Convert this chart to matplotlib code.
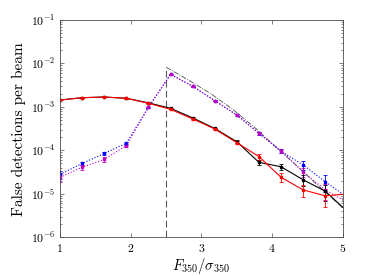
import numpy as np
import matplotlib
matplotlib.use("Agg")
import matplotlib.pyplot as plt

# bin centres (last one lies just past the axis edge)
snr = [1.0, 1.3125, 1.625, 1.9375, 2.25, 2.5625, 2.875, 3.1875,
       3.5, 3.8125, 4.125, 4.4375, 4.75, 5.0625]

red = [1.44e-3, 1.63e-3, 1.69e-3, 1.58e-3, 1.21e-3, 8.8e-4, 5.3e-4, 3.1e-4,
       1.5e-4, 7.2e-5, 2.4e-5, 1.23e-5, 9.0e-6, 1.0e-5]
red_err = [3e-5, 3e-5, 3e-5, 3e-5, 3e-5, 2.5e-5, 2e-5, 1.5e-5,
           1.1e-5, 1.1e-5, 5.5e-6, 3.7e-6, 4e-6, 3e-6]

black = [1.44e-3, 1.63e-3, 1.69e-3, 1.58e-3, 1.24e-3, 9.3e-4, 5.6e-4, 3.2e-4,
         1.58e-4, 5.3e-5, 4.2e-5, 2.1e-5, 1.15e-5, 3.9e-6]
black_err = [3e-5, 3e-5, 3e-5, 3e-5, 3e-5, 2.5e-5, 2e-5, 1.5e-5,
             1.1e-5, 8e-6, 7e-6, 5.5e-6, 4.5e-6, 2e-6]

blue = [2.8e-5, 5.0e-5, 8.5e-5, 1.46e-4, 9.8e-4, 5.6e-3, 3.0e-3, 1.39e-3,
        6.5e-4, 2.47e-4, 9.5e-5, 4.6e-5, 1.9e-5, 8.3e-6]
blue_err = [6e-6, 5e-6, 7e-6, 1.0e-5, 3e-5, 7e-5, 5e-5, 3.5e-5,
            2.5e-5, 1.5e-5, 1.0e-5, 1.0e-5, 8e-6, 4e-6]

magenta = [2.4e-5, 4.1e-5, 6.2e-5, 1.29e-4, 9.8e-4, 5.6e-3, 3.0e-3, 1.39e-3,
           6.5e-4, 2.47e-4, 9.7e-5, 3.2e-5, 1.23e-5, 6.3e-6]
magenta_err = [5e-6, 5e-6, 7e-6, 1.0e-5, 3e-5, 7e-5, 5e-5, 3.5e-5,
               2.5e-5, 1.5e-5, 9e-6, 7e-6, 5e-6, 3e-6]

# model curve starting at the cut
model_x = [2.5, 2.8125, 3.125, 3.4375, 3.75, 4.0625, 4.375, 4.6875, 5.0]
model_y = [8.2e-3, 4.2e-3, 2.05e-3, 8.9e-4, 3.4e-4, 1.15e-4, 4.0e-5, 1.35e-5, 4.7e-6]
cut = 2.5

plt.rcParams['font.family'] = 'serif'
plt.rcParams['font.serif'] = ['cmr10']
plt.rcParams['mathtext.fontset'] = 'cm'
plt.rcParams['axes.formatter.use_mathtext'] = True

fig = plt.figure(figsize=(3.9, 2.76), dpi=100)
ax = fig.add_axes([0.1538, 0.1402, 0.7257, 0.7873])

ax.plot([cut, cut], [1e-6, model_y[0]], '--', color='0.35', lw=0.8, dashes=(6, 3))
ax.plot(model_x, model_y, '-.', color='0.3', lw=0.6)

def series(y, e, color, ls):
    ax.errorbar(snr, y, yerr=e, color=color, ls=ls, lw=0.8, marker='s',
                markersize=1.8, capsize=1.6, elinewidth=0.6, capthick=0.6)

series(blue, blue_err, 'b', ':')
series(magenta, magenta_err, 'm', ':')
series(black, black_err, 'k', '-')
series(red, red_err, 'r', '-')

ax.set_yscale('log')
ax.set_xlim(1, 5)
ax.set_ylim(1e-6, 1e-1)
ax.set_xticks([1, 2, 3, 4, 5])
ax.set_yticks([1e-6, 1e-5, 1e-4, 1e-3, 1e-2, 1e-1])
ax.tick_params(which='both', direction='in', top=True, right=True,
               labelsize=8.5, color='0.3', width=0.5)
ax.tick_params(which='major', length=3)
ax.tick_params(which='minor', length=1.6)
for s in ax.spines.values():
    s.set_color('0.3')
    s.set_linewidth(0.6)

ax.set_xlabel(r'$F_{350}/\sigma_{350}$', fontsize=10.5, labelpad=1)
ax.set_ylabel('False detections per beam', fontsize=11, labelpad=3)

fig.savefig('out.png', dpi=100)
